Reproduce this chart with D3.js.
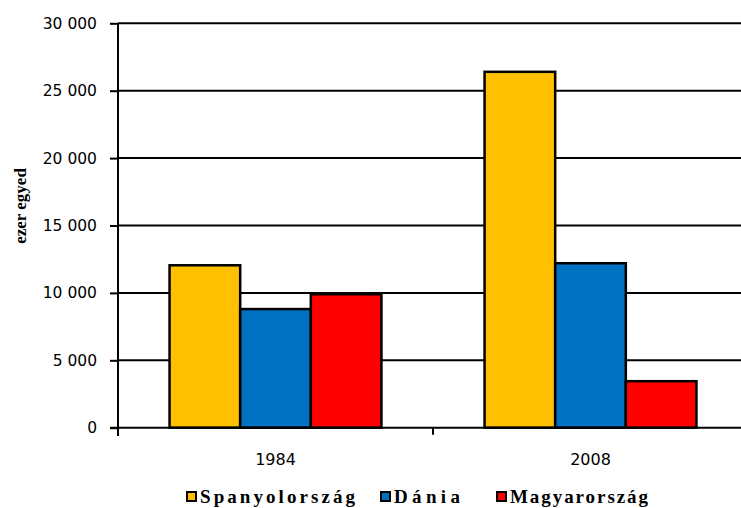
<!DOCTYPE html>
<html>
<head>
<meta charset="utf-8">
<script src="https://cdn.jsdelivr.net/npm/d3@7"></script>
<style>
  body { margin: 0; background: #fff; }
  svg { display: block; }
</style>
</head>
<body>
<div id="app"></div>
<script>
// data (ezer egyed)
const years = ['1984', '2008']
const countries = ['Spanyolország', 'Dánia', 'Magyarország']
const spain = [12050, 26400]
const denmark = [8800, 12200]
const hungary = [9900, 3450]
const yTicks = [0, 5000, 10000, 15000, 20000, 25000, 30000]
const colors = ['#ffc000', '#0070c0', '#ff0000']

function main() {
  const width = 741
  const height = 508
  const series = [spain, denmark, hungary]

  const svg = d3.select('#app')
    .append('svg')
    .attr('width', width)
    .attr('height', height)

  // scales
  const y = d3.scaleLinear().domain([0, 30000]).range([427.7, 23.3])
  const x0 = d3.scaleBand().domain(years).range([118, 748])
  const x1 = d3.scaleBand()
    .domain(countries)
    .range([0, x0.bandwidth()])
    .paddingOuter(0.73)

  // gridlines
  svg.append('g')
    .selectAll('line')
    .data(yTicks.filter((d) => d > 0))
    .join('line')
    .attr('x1', 118)
    .attr('x2', width)
    .attr('y1', (d) => y(d))
    .attr('y2', (d) => y(d))
    .attr('stroke', '#000')
    .attr('stroke-width', 2)

  // bars
  const groups = svg.append('g')
    .selectAll('g')
    .data(years)
    .join('g')
    .attr('transform', (d) => `translate(${x0(d)},0)`)

  groups.selectAll('rect')
    .data((d, i) => countries.map((c, j) => ({ c, j, v: series[j][i] })))
    .join('rect')
    .attr('x', (d) => x1(d.c))
    .attr('y', (d) => y(d.v))
    .attr('width', x1.bandwidth())
    .attr('height', (d) => y(0) - y(d.v))
    .attr('fill', (d) => colors[d.j])
    .attr('stroke', '#000')
    .attr('stroke-width', 2.5)

  // y axis
  const yAxis = d3.axisLeft(y)
    .tickValues(yTicks)
    .tickSize(8)
    .tickPadding(13)
    .tickFormat((d) => d3.format(',')(d).replace(',', ' '))

  svg.append('g')
    .attr('transform', 'translate(118,0)')
    .call(yAxis)
    .call((g) => g.select('.domain').attr('d', 'M0,23.3V436'))
    .call((g) => g.selectAll('line, path').attr('stroke', '#000').attr('stroke-width', 2))
    .call((g) => g.selectAll('text')
      .attr('font-family', 'DejaVu Sans')
      .attr('font-size', 15.5)
      .attr('fill', '#000'))

  // x axis
  const xAxis = d3.axisBottom(x0).tickSize(0).tickPadding(26)
  svg.append('g')
    .attr('transform', `translate(0,${y(0)})`)
    .call(xAxis)
    .call((g) => g.select('.domain').attr('d', `M110,0H${width}`))
    .call((g) => g.selectAll('path').attr('stroke', '#000').attr('stroke-width', 2))
    .call((g) => g.selectAll('text')
      .attr('font-family', 'DejaVu Sans')
      .attr('font-size', 16)
      .attr('fill', '#000'))

  // x tick marks at the band edges
  svg.append('g')
    .selectAll('line')
    .data([118, x0('2008')])
    .join('line')
    .attr('x1', (d) => d)
    .attr('x2', (d) => d)
    .attr('y1', y(0))
    .attr('y2', y(0) + 7)
    .attr('stroke', '#000')
    .attr('stroke-width', 2)

  // y axis title
  svg.append('text')
    .attr('transform', 'translate(26,206) rotate(-90)')
    .attr('text-anchor', 'middle')
    .attr('font-family', 'Liberation Serif')
    .attr('font-weight', 'bold')
    .attr('font-size', 17)
    .text('ezer egyed')

  // legend
  const legendX = [187, 381, 497]
  const legendW = [155, 66, 138]
  const legend = svg.append('g')
    .selectAll('g')
    .data(countries)
    .join('g')
    .attr('transform', (d, i) => `translate(${legendX[i]},492)`)

  legend.append('rect')
    .attr('width', 9)
    .attr('height', 9)
    .attr('fill', (d, i) => colors[i])
    .attr('stroke', '#000')
    .attr('stroke-width', 2)

  legend.append('text')
    .attr('x', 13)
    .attr('y', 11)
    .attr('font-family', 'Liberation Serif')
    .attr('font-weight', 'bold')
    .attr('font-size', 19)
    .attr('textLength', (d, i) => legendW[i])
    .attr('lengthAdjust', 'spacing')
    .text((d) => d)
}

main()
</script>
</body>
</html>
